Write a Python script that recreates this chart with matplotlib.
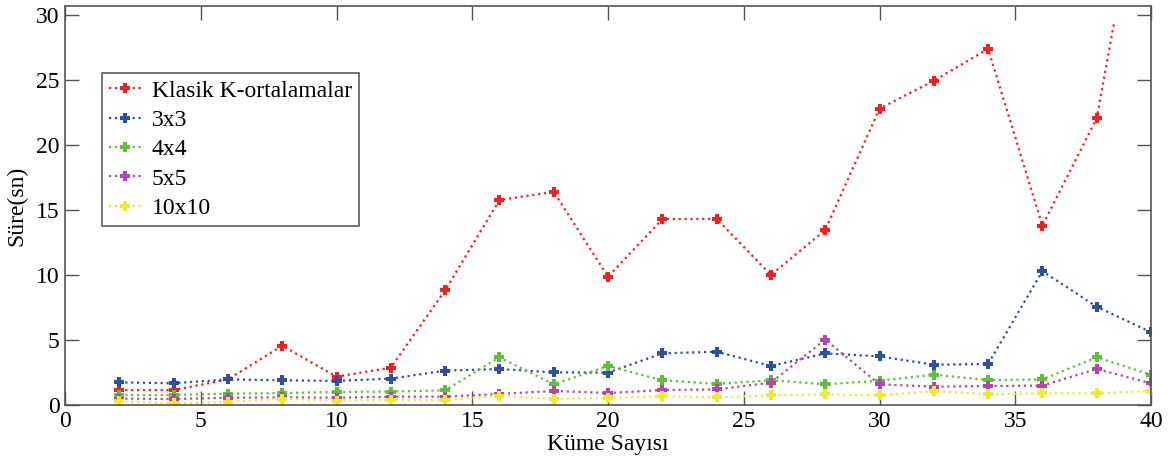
import numpy as np
import matplotlib
matplotlib.use("Agg")
import matplotlib.pyplot as plt
from matplotlib.patches import Rectangle

plt.rcParams['font.family'] = ['Liberation Serif', 'DejaVu Serif']

kume = [2, 4, 6, 8, 10, 12, 14, 16, 18, 20, 22, 24, 26, 28, 30, 32, 34, 36, 38, 40]

klasik = [1.15, 1.15, 1.97, 4.56, 2.18, 2.87, 8.82, 15.77, 16.4, 9.87,
          14.3, 14.33, 10.0, 13.46, 22.8, 24.95, 27.4, 13.8, 22.05, 45.0]
s3x3 = [1.74, 1.67, 1.97, 1.9, 1.85, 2.03, 2.64, 2.77, 2.51, 2.49,
        3.97, 4.1, 3.0, 3.97, 3.74, 3.1, 3.15, 10.3, 7.56, 5.6]
s4x4 = [0.77, 0.77, 0.87, 0.92, 1.0, 1.03, 1.13, 3.67, 1.59, 3.0,
        1.9, 1.62, 1.9, 1.59, 1.87, 2.33, 1.92, 1.97, 3.67, 2.33]
s5x5 = [0.49, 0.46, 0.56, 0.59, 0.56, 0.64, 0.64, 0.85, 1.08, 0.92,
        1.15, 1.2, 1.72, 5.03, 1.59, 1.41, 1.46, 1.49, 2.77, 1.67]
s10x10 = [0.28, 0.13, 0.23, 0.49, 0.33, 0.41, 0.38, 0.69, 0.46, 0.54,
          0.67, 0.59, 0.74, 0.82, 0.74, 1.08, 0.82, 0.9, 0.9, 1.08]

labels = ["Klasik K-ortalamalar", "3x3", "4x4", "5x5", "10x10"]
colors = ["#f22020", "#2f4fa0", "#5fbf3a", "#b245b0", "#ecec2c"]

fig = plt.figure(figsize=(11.74, 4.61), dpi=100)
ax = fig.add_axes([0.0554, 0.1215, 0.9250, 0.8655])

series = [klasik, s3x3, s4x4, s5x5, s10x10]
for vals, lab, c in zip(series, labels, colors):
    line, = ax.plot(kume, vals, linestyle=":", linewidth=1.6, color=c,
                    marker="P", markersize=6.5, markeredgewidth=0, label=lab)
    if lab == labels[0]:
        # red line stops a little below the frame top in the original
        line.set_clip_path(Rectangle((0, 0), 40, 29.3, transform=ax.transData))

ax.set_xlim(0, 40)
ax.set_ylim(0, 30.7)
ax.set_xticks(np.arange(0, 41, 5))
ax.set_yticks(np.arange(0, 31, 5))
ax.tick_params(direction="in", length=10, width=1, top=True, right=True,
               labelsize=17, color="#555555", pad=4)
for sp in ax.spines.values():
    sp.set_color("#555555")
    sp.set_linewidth(1.2)

ax.set_xlabel("Küme Sayısı", fontsize=17, labelpad=2)
ax.set_ylabel("Süre(sn)", fontsize=17, labelpad=6)

leg = ax.legend(loc="upper left", bbox_to_anchor=(0.034, 0.832), fontsize=17,
                frameon=True, fancybox=False, edgecolor="#333333",
                handlelength=1.35, handletextpad=0.45, borderpad=0.3,
                labelspacing=0.33, borderaxespad=0)
leg.get_frame().set_linewidth(1.2)

plt.savefig("out.png", dpi=100)
